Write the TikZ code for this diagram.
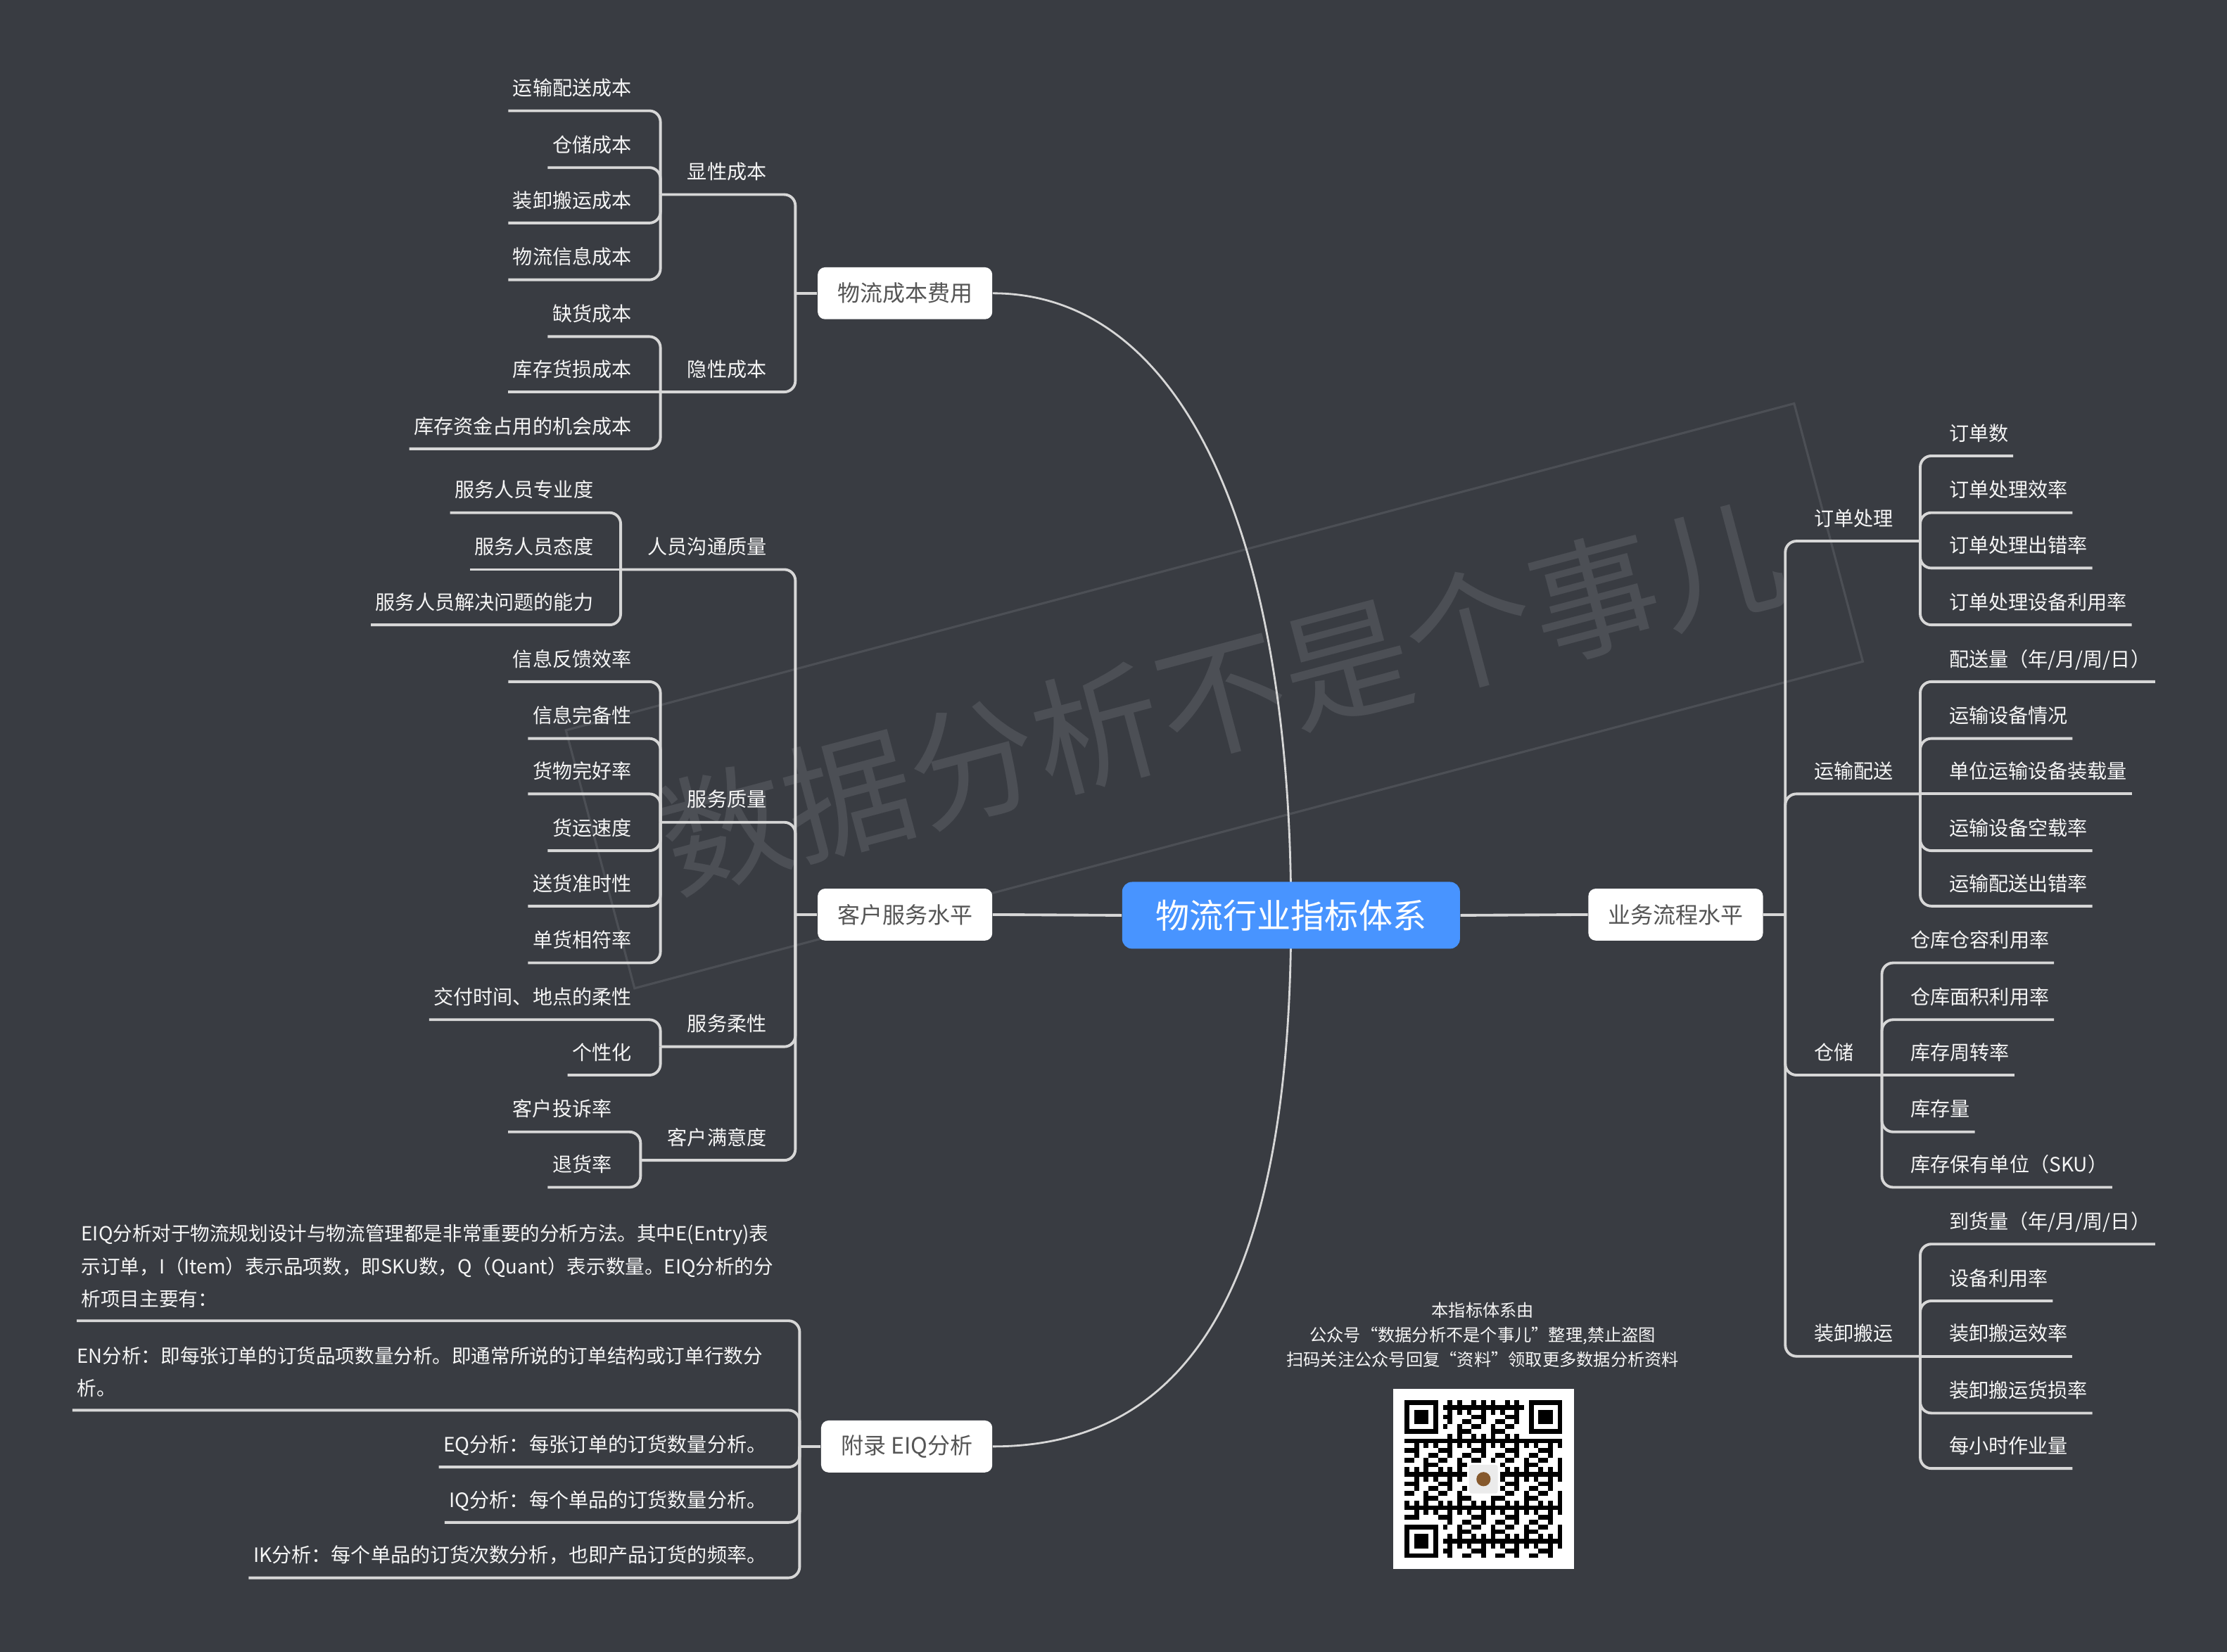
\documentclass[tikz,border=0pt]{standalone}
\usepackage{fontspec}
\setmainfont{Noto Sans CJK SC}
\usepackage{xcolor}
\usepackage{tikz}

\definecolor{bgc}{RGB}{57,60,66}
\definecolor{linec}{RGB}{215,215,215}
\definecolor{markc}{RGB}{76,79,85}
\definecolor{rootc}{RGB}{72,148,255}
\definecolor{boxtext}{RGB}{85,85,85}
\definecolor{leaftext}{RGB}{245,245,245}

\tikzset{
    leaf/.style={text=leaftext, font=\fontsize{8pt}{10pt}\selectfont, inner xsep=1.7pt, inner ysep=5pt, text height=7pt, text depth=1pt},
    para/.style={text=leaftext, font=\fontsize{7.85pt}{13.2pt}\selectfont, align=left, inner xsep=1.7pt, inner ysep=5pt},
    mainbox/.style={fill=white, rounded corners=3pt, text=boxtext, font=\fontsize{9.1pt}{11pt}\selectfont, inner xsep=8pt, minimum height=21pt},
    rootbox/.style={fill=rootc, rounded corners=4pt, text=white, font=\fontsize{13.7pt}{16pt}\selectfont, inner xsep=13.5pt, minimum height=27pt},
    branch/.style={draw=linec, line width=1.1pt, rounded corners=4.5pt},
    trunk/.style={draw=linec, line width=0.8pt},
    foot/.style={text=leaftext, font=\fontsize{6.9pt}{10pt}\selectfont, align=center}
}

\begin{document}
\begin{tikzpicture}[x=0.020185cm, y=-0.020185cm]
    \useasboundingbox (0,0) rectangle (1568,1163);
    \fill[bgc] (0,0) rectangle (1568,1163);

    % watermark
    \node[draw=markc, line width=0.9pt, rotate=14.9, minimum width=514pt, minimum height=108pt] (markbox) at (855,490) {};
    \node[text=markc, rotate=14.9, font=\fontsize{52pt}{52pt}\selectfont] (mark) at (860,490) {数据分析不是个事儿};

    % main topics
    \node[mainbox, anchor=east] (C) at (699,206.5) {物流成本费用};
    \node[mainbox, anchor=east] (S) at (699,644) {客户服务水平};
    \node[mainbox, anchor=east] (E) at (699,1018.5) {附录 EIQ分析};
    \node[mainbox, anchor=west] (B) at (1118,644) {业务流程水平};
    \coordinate (Rc) at (909,644.5);
    \draw[trunk] (Rc) .. controls (909,370) and (830,206.5) .. (C.east);
    \draw[trunk] (Rc) .. controls (909,900) and (840,1018.5) .. (E.east);
    \node[rootbox] (R) at (Rc) {物流行业指标体系};
    \draw[branch] (R.west) -- (S.east);
    \draw[branch] (R.east) -- (B.west);

    % 物流成本费用
    \coordinate (Cj) at (560,206.5);
    \coordinate (Xj) at (465,137);
    \coordinate (Yj) at (465,276);
    \draw[branch] (C.west) -- (Cj);
    \draw[branch] (Cj) |- (Xj);
    \draw[branch] (Cj) |- (Yj);
    \node[leaf, anchor=south east] (X) at (543,137) {显性成本};
    \node[leaf, anchor=south east] (Y) at (543,276) {隐性成本};
    \node[leaf, anchor=south east] (x1) at (448,78) {运输配送成本};
    \node[leaf, anchor=south east] (x2) at (448,118) {仓储成本};
    \node[leaf, anchor=south east] (x3) at (448,157) {装卸搬运成本};
    \node[leaf, anchor=south east] (x4) at (448,197) {物流信息成本};
    \node[leaf, anchor=south east] (y1) at (448,237) {缺货成本};
    \node[leaf, anchor=south east] (y2) at (448,276) {库存货损成本};
    \node[leaf, anchor=south east] (y3) at (448,316) {库存资金占用的机会成本};
    \draw[branch] (Xj) |- (x1.south west);
    \draw[branch] (Xj) |- (x2.south west);
    \draw[branch] (Xj) |- (x3.south west);
    \draw[branch] (Xj) |- (x4.south west);
    \draw[branch] (Yj) |- (y1.south west);
    \draw[branch] (Yj) -- (y2.south west);
    \draw[branch] (Yj) |- (y3.south west);

    % 客户服务水平
    \coordinate (Sj) at (560,644);
    \coordinate (Pj) at (437,401);
    \coordinate (Qj) at (465,579);
    \coordinate (Fj) at (465,737);
    \coordinate (Mj) at (451,817);
    \draw[branch] (S.west) -- (Sj);
    \draw[branch] (Sj) |- (Pj);
    \draw[branch] (Sj) |- (Qj);
    \draw[branch] (Sj) |- (Fj);
    \draw[branch] (Sj) |- (Mj);
    \node[leaf, anchor=south east] (P) at (543,401) {人员沟通质量};
    \node[leaf, anchor=south east] (Q) at (543,579) {服务质量};
    \node[leaf, anchor=south east] (F) at (543,737) {服务柔性};
    \node[leaf, anchor=south east] (M) at (543,817) {客户满意度};
    \node[leaf, anchor=south east] (p1) at (421,361) {服务人员专业度};
    \node[leaf, anchor=south east] (p2) at (421,401) {服务人员态度};
    \node[leaf, anchor=south east] (p3) at (421,440) {服务人员解决问题的能力};
    \node[leaf, anchor=south east] (q1) at (448,480) {信息反馈效率};
    \node[leaf, anchor=south east] (q2) at (448,520) {信息完备性};
    \node[leaf, anchor=south east] (q3) at (448,559) {货物完好率};
    \node[leaf, anchor=south east] (q4) at (448,599) {货运速度};
    \node[leaf, anchor=south east] (q5) at (448,638) {送货准时性};
    \node[leaf, anchor=south east] (q6) at (448,678) {单货相符率};
    \node[leaf, anchor=south east] (f1) at (448,718) {交付时间、地点的柔性};
    \node[leaf, anchor=south east] (f2) at (448,757) {个性化};
    \node[leaf, anchor=south east] (m1) at (434,797) {客户投诉率};
    \node[leaf, anchor=south east] (m2) at (434,836) {退货率};
    \draw[branch] (Pj) |- (p1.south west);
    \draw[branch] (Pj) -- (p2.south west);
    \draw[branch] (Pj) |- (p3.south west);
    \draw[branch] (Qj) |- (q1.south west);
    \draw[branch] (Qj) |- (q2.south west);
    \draw[branch] (Qj) |- (q3.south west);
    \draw[branch] (Qj) |- (q4.south west);
    \draw[branch] (Qj) |- (q5.south west);
    \draw[branch] (Qj) |- (q6.south west);
    \draw[branch] (Fj) |- (f1.south west);
    \draw[branch] (Fj) |- (f2.south west);
    \draw[branch] (Mj) |- (m1.south west);
    \draw[branch] (Mj) |- (m2.south west);

    % 附录 EIQ分析
    \coordinate (Ej) at (563,1018.5);
    \draw[branch] (E.west) -- (Ej);
    \node[para, anchor=south west] (e1) at (54,930) {EIQ分析对于物流规划设计与物流管理都是非常重要的分析方法。其中E(Entry)表\\示订单，I（Item）表示品项数，即SKU数，Q（Quant）表示数量。EIQ分析的分\\析项目主要有：};
    \node[para, anchor=south west] (e2) at (51,993) {EN分析：即每张订单的订货品项数量分析。即通常所说的订单结构或订单行数分\\析。};
    \node[leaf, anchor=south east] (e3) at (543,1033) {EQ分析：每张订单的订货数量分析。};
    \node[leaf, anchor=south east] (e4) at (543,1072) {IQ分析：每个单品的订货数量分析。};
    \node[leaf, anchor=south east] (e5) at (543,1111) {IK分析：每个单品的订货次数分析，也即产品订货的频率。};
    \draw[branch] (Ej) |- (e1.south west);
    \draw[branch] (Ej) |- (e2.south west);
    \draw[branch] (Ej) |- (e3.south west);
    \draw[branch] (Ej) |- (e4.south west);
    \draw[branch] (Ej) |- (e5.south west);

    % 业务流程水平
    \coordinate (Bj) at (1257,644);
    \coordinate (Oj) at (1352,381);
    \coordinate (Tj) at (1352,559);
    \coordinate (Wj) at (1325,757);
    \coordinate (Lj) at (1352,955);
    \draw[branch] (B.east) -- (Bj);
    \draw[branch] (Bj) |- (Oj);
    \draw[branch] (Bj) |- (Tj);
    \draw[branch] (Bj) |- (Wj);
    \draw[branch] (Bj) |- (Lj);
    \node[leaf, anchor=south west] (O) at (1274,381) {订单处理};
    \node[leaf, anchor=south west] (T) at (1274,559) {运输配送};
    \node[leaf, anchor=south west] (W) at (1274,757) {仓储};
    \node[leaf, anchor=south west] (L) at (1274,955) {装卸搬运};
    \node[leaf, anchor=south west] (o1) at (1369,321) {订单数};
    \node[leaf, anchor=south west] (o2) at (1369,361) {订单处理效率};
    \node[leaf, anchor=south west] (o3) at (1369,400) {订单处理出错率};
    \node[leaf, anchor=south west] (o4) at (1369,440) {订单处理设备利用率};
    \node[leaf, anchor=south west] (t1) at (1369,480) {配送量（年/月/周/日）};
    \node[leaf, anchor=south west] (t2) at (1369,520) {运输设备情况};
    \node[leaf, anchor=south west] (t3) at (1369,559) {单位运输设备装载量};
    \node[leaf, anchor=south west] (t4) at (1369,599) {运输设备空载率};
    \node[leaf, anchor=south west] (t5) at (1369,638) {运输配送出错率};
    \node[leaf, anchor=south west] (w1) at (1342,678) {仓库仓容利用率};
    \node[leaf, anchor=south west] (w2) at (1342,718) {仓库面积利用率};
    \node[leaf, anchor=south west] (w3) at (1342,757) {库存周转率};
    \node[leaf, anchor=south west] (w4) at (1342,797) {库存量};
    \node[leaf, anchor=south west] (w5) at (1342,836) {库存保有单位（SKU）};
    \node[leaf, anchor=south west] (l1) at (1369,876) {到货量（年/月/周/日）};
    \node[leaf, anchor=south west] (l2) at (1369,916) {设备利用率};
    \node[leaf, anchor=south west] (l3) at (1369,955) {装卸搬运效率};
    \node[leaf, anchor=south west] (l4) at (1369,995) {装卸搬运货损率};
    \node[leaf, anchor=south west] (l5) at (1369,1034) {每小时作业量};
    \draw[branch] (Oj) |- (o1.south east);
    \draw[branch] (Oj) |- (o2.south east);
    \draw[branch] (Oj) |- (o3.south east);
    \draw[branch] (Oj) |- (o4.south east);
    \draw[branch] (Tj) |- (t1.south east);
    \draw[branch] (Tj) |- (t2.south east);
    \draw[branch] (Tj) -- (t3.south east);
    \draw[branch] (Tj) |- (t4.south east);
    \draw[branch] (Tj) |- (t5.south east);
    \draw[branch] (Wj) |- (w1.south east);
    \draw[branch] (Wj) |- (w2.south east);
    \draw[branch] (Wj) -- (w3.south east);
    \draw[branch] (Wj) |- (w4.south east);
    \draw[branch] (Wj) |- (w5.south east);
    \draw[branch] (Lj) |- (l1.south east);
    \draw[branch] (Lj) |- (l2.south east);
    \draw[branch] (Lj) -- (l3.south east);
    \draw[branch] (Lj) |- (l4.south east);
    \draw[branch] (Lj) |- (l5.south east);

    % note and qr code
    \node[foot] (note) at (1044,940) {本指标体系由\\公众号“数据分析不是个事儿”整理,禁止盗图\\扫码关注公众号回复“资料”领取更多数据分析资料};
    \fill[white] (981,978) rectangle (1108,1105);
    \foreach \i in {0,...,32}{
        \foreach \j in {0,...,32}{
            \pgfmathtruncatemacro\q{(mod(\i*\i*7+\j*\j*5+\i*\j*3+\i*11+\j*2,7)<3)&&!((\i<8&&\j<8)||(\i>24&&\j<8)||(\i<8&&\j>24)||(\i>12&&\i<20&&\j>12&&\j<20))}
            \ifnum\q=1 \fill[black] (989+\i*3.364,986+\j*3.364) rectangle +(3.364,3.364); \fi
        }
    }
    \foreach \a/\b in {0/0,26/0,0/26}{
        \fill[black] (989+\a*3.364,986+\b*3.364) rectangle +(23.548,23.548);
        \fill[white] (992.364+\a*3.364,989.364+\b*3.364) rectangle +(16.82,16.82);
        \fill[black] (995.728+\a*3.364,992.728+\b*3.364) rectangle +(10.092,10.092);
    }
    \fill[white!92!black, rounded corners=1pt] (1034.4,1031.4) rectangle +(20.2,20.2);
    \fill[brown!70!black] (1044.5,1041.5) circle (5);
\end{tikzpicture}
\end{document}
